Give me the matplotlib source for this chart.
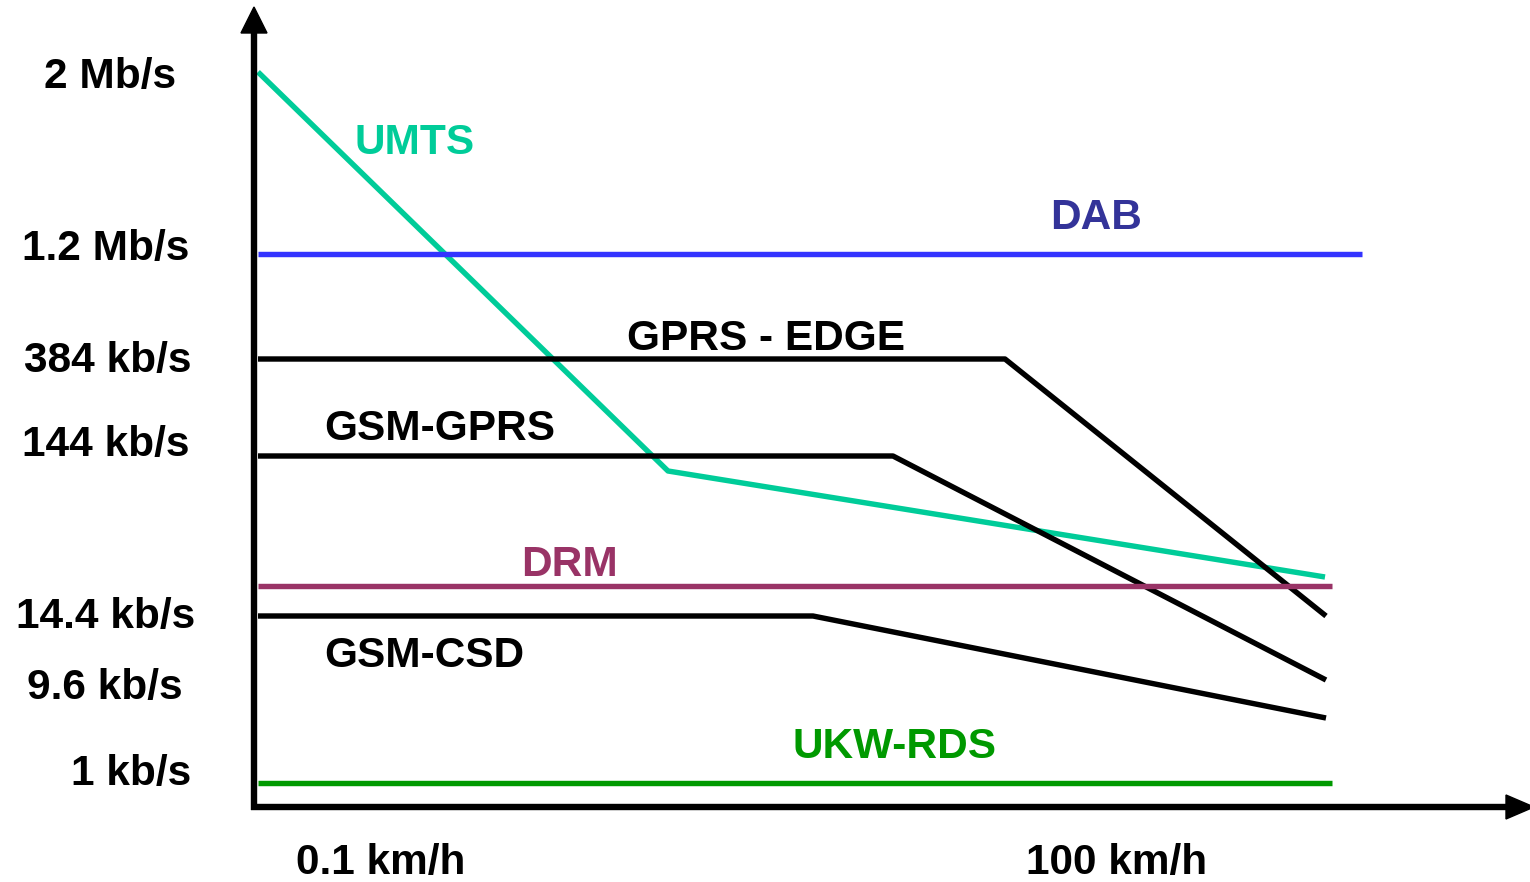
import matplotlib
matplotlib.use("Agg")
import matplotlib.pyplot as plt
from matplotlib.patches import Polygon

plt.rcParams['font.family'] = ['Liberation Sans', 'DejaVu Sans']

W, H = 1530, 882

# Series (schematic positions: x = speed scale, y = data-rate scale, in image units)
umts_x = [258, 668, 1325]
umts_y = [72, 471, 577]
dab_x = [258, 1362]
dab_y = [254, 254]
edge_x = [258, 1005, 1326]
edge_y = [359, 359, 616]
gprs_x = [258, 893, 1326]
gprs_y = [456, 456, 680]
drm_x = [258, 1332]
drm_y = [586, 586]
csd_x = [258, 813, 1326]
csd_y = [616, 616, 718]
ukw_x = [258, 1332]
ukw_y = [783, 783]

ytick_labels = ["2 Mb/s", "1.2 Mb/s", "384 kb/s", "144 kb/s", "14.4 kb/s", "9.6 kb/s", "1 kb/s"]
ytick_pos = [77, 249, 361, 445, 617, 688, 774]
ytick_x = [110, 106, 108, 106, 106, 105, 131]
xtick_labels = ["0.1 km/h", "100 km/h"]
xtick_pos = [381, 1117]

fig = plt.figure(figsize=(W / 100, H / 100), dpi=100)
ax = fig.add_axes([0, 0, 1, 1])
ax.set_xlim(0, W)
ax.set_ylim(H, 0)
ax.axis('off')

lw = 3.9
ax.plot(umts_x, umts_y, color='#00CC99', lw=lw, solid_capstyle='butt')
ax.plot(dab_x, dab_y, color='#3333FF', lw=lw, solid_capstyle='butt')
ax.plot(edge_x, edge_y, color='black', lw=lw, solid_capstyle='butt')
ax.plot(gprs_x, gprs_y, color='black', lw=lw, solid_capstyle='butt')
ax.plot(drm_x, drm_y, color='#993366', lw=lw, solid_capstyle='butt')
ax.plot(csd_x, csd_y, color='black', lw=lw, solid_capstyle='butt')
ax.plot(ukw_x, ukw_y, color='#009900', lw=lw, solid_capstyle='butt')

# Axes lines
alw = 4.6
ax.plot([254, 254], [810, 30], color='black', lw=alw, solid_capstyle='butt', clip_on=False)
ax.plot([251, 1508], [807, 807], color='black', lw=alw, solid_capstyle='butt', clip_on=False)
# Arrow heads
ax.add_patch(Polygon([[254, 7], [241, 33], [267, 33]], closed=True, color='black', clip_on=False))
ax.add_patch(Polygon([[1534, 807], [1506, 795], [1506, 819]], closed=True, color='black', clip_on=False))

fs = 30.5
tk = dict(fontsize=fs, fontweight='bold', va='center')
ax.text(355, 143, "UMTS", color='#00CC99', ha='left', **tk)
ax.text(1050, 218, "DAB", color='#333399', ha='left', **tk)
ax.text(627, 339, "GPRS - EDGE", color='black', ha='left', **tk)
ax.text(324, 429, "GSM-GPRS", color='black', ha='left', **tk)
ax.text(521, 565, "DRM", color='#993366', ha='left', **tk)
ax.text(324, 656, "GSM-CSD", color='black', ha='left', **tk)
ax.text(793, 747, "UKW-RDS", color='#009900', ha='left', **tk)

for lab, y, x in zip(ytick_labels, ytick_pos, ytick_x):
    ax.text(x, y, lab, color='black', ha='center', **tk)
for lab, x in zip(xtick_labels, xtick_pos):
    ax.text(x, 863, lab, color='black', ha='center', **tk)

fig.savefig('out.png', dpi=100)
